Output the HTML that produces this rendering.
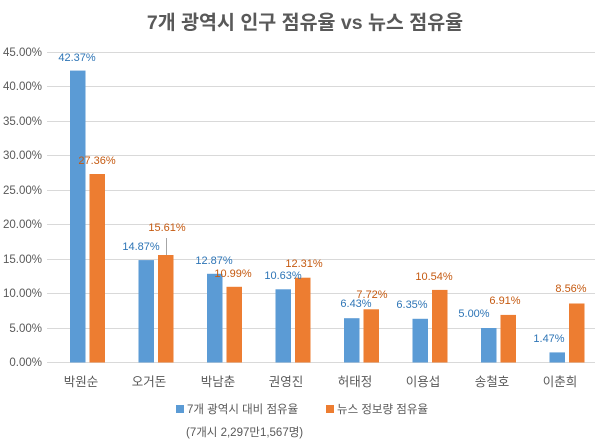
<!DOCTYPE html>
<html><head><meta charset="utf-8"><style>
body{margin:0;background:#fff;}
svg text{font-family:"Liberation Sans","Noto Sans CJK KR",sans-serif;}
</style></head><body>
<svg width="610" height="442" viewBox="0 0 610 442" xmlns="http://www.w3.org/2000/svg">
<rect width="610" height="442" fill="#fff"/>
<text x="305" y="29" text-anchor="middle" font-size="19.5" font-weight="bold" fill="#595959">7개 광역시 인구 점유율 vs 뉴스 점유율</text>
<g stroke="#d9d9d9" stroke-width="1">
<line x1="47" x2="595" y1="52.5" y2="52.5"/><line x1="47" x2="595" y1="86.5" y2="86.5"/>
<line x1="47" x2="595" y1="121.5" y2="121.5"/><line x1="47" x2="595" y1="155.5" y2="155.5"/>
<line x1="47" x2="595" y1="190.5" y2="190.5"/><line x1="47" x2="595" y1="224.5" y2="224.5"/>
<line x1="47" x2="595" y1="259.5" y2="259.5"/><line x1="47" x2="595" y1="293.5" y2="293.5"/>
<line x1="47" x2="595" y1="328.5" y2="328.5"/><line x1="47" x2="595" y1="362.5" y2="362.5"/>
</g>
<g font-size="11.5" fill="#595959" text-anchor="end">
<text x="42" y="56">45.00%</text><text x="42" y="90">40.00%</text><text x="42" y="125">35.00%</text>
<text x="42" y="159">30.00%</text><text x="42" y="194">25.00%</text><text x="42" y="228">20.00%</text>
<text x="42" y="263">15.00%</text><text x="42" y="297">10.00%</text><text x="42" y="332">5.00%</text>
<text x="42" y="366">0.00%</text>
</g>
<g fill="#5B9BD5">
<rect x="70" y="70.6" width="15.5" height="291.9"/>
<rect x="138.5" y="260.1" width="15.5" height="102.4"/>
<rect x="207" y="273.8" width="15.5" height="88.7"/>
<rect x="275.5" y="289.3" width="15.5" height="73.2"/>
<rect x="344" y="318.2" width="15.5" height="44.3"/>
<rect x="412.5" y="318.8" width="15.5" height="43.7"/>
<rect x="481" y="328" width="15.5" height="34.5"/>
<rect x="549.5" y="352.4" width="15.5" height="10.1"/>
</g>
<g fill="#ED7D31">
<rect x="89.5" y="174" width="15.5" height="188.5"/>
<rect x="158" y="255" width="15.5" height="107.5"/>
<rect x="226.5" y="286.8" width="15.5" height="75.7"/>
<rect x="295" y="277.7" width="15.5" height="84.8"/>
<rect x="363.5" y="309.3" width="15.5" height="53.2"/>
<rect x="432" y="289.9" width="15.5" height="72.6"/>
<rect x="500.5" y="314.9" width="15.5" height="47.6"/>
<rect x="569" y="303.5" width="15.5" height="59"/>
</g>
<line x1="166.5" x2="166.5" y1="238" y2="255" stroke="#a6a6a6"/>
<g font-size="11" fill="#2E75B6" text-anchor="middle">
<text x="77" y="61">42.37%</text><text x="141" y="250">14.87%</text><text x="214" y="264">12.87%</text>
<text x="283" y="279">10.63%</text><text x="356" y="307">6.43%</text><text x="412" y="308">6.35%</text>
<text x="474" y="317">5.00%</text><text x="549" y="342">1.47%</text>
</g>
<g font-size="11" fill="#C55A11" text-anchor="middle">
<text x="97" y="164">27.36%</text><text x="167" y="231">15.61%</text><text x="233" y="277">10.99%</text>
<text x="304" y="267">12.31%</text><text x="372" y="298">7.72%</text><text x="434" y="280">10.54%</text>
<text x="505" y="304">6.91%</text><text x="571" y="292">8.56%</text>
</g>
<g font-size="12.5" fill="#595959" text-anchor="middle">
<text x="81" y="386">박원순</text><text x="149" y="386">오거돈</text><text x="218" y="386">박남춘</text>
<text x="286" y="386">권영진</text><text x="355" y="386">허태정</text><text x="423" y="386">이용섭</text>
<text x="492" y="386">송철호</text><text x="560" y="386">이춘희</text>
</g>
<rect x="176" y="405" width="8" height="8" fill="#5B9BD5"/>
<text x="187" y="413" font-size="11.5" fill="#595959">7개 광역시 대비 점유율</text>
<rect x="326" y="405" width="8" height="8" fill="#ED7D31"/>
<text x="337" y="413" font-size="11.5" fill="#595959">뉴스 정보량 점유율</text>
<text x="186" y="436" font-size="11.5" fill="#595959">(7개시 2,297만1,567명)</text>
</svg>
</body></html>
